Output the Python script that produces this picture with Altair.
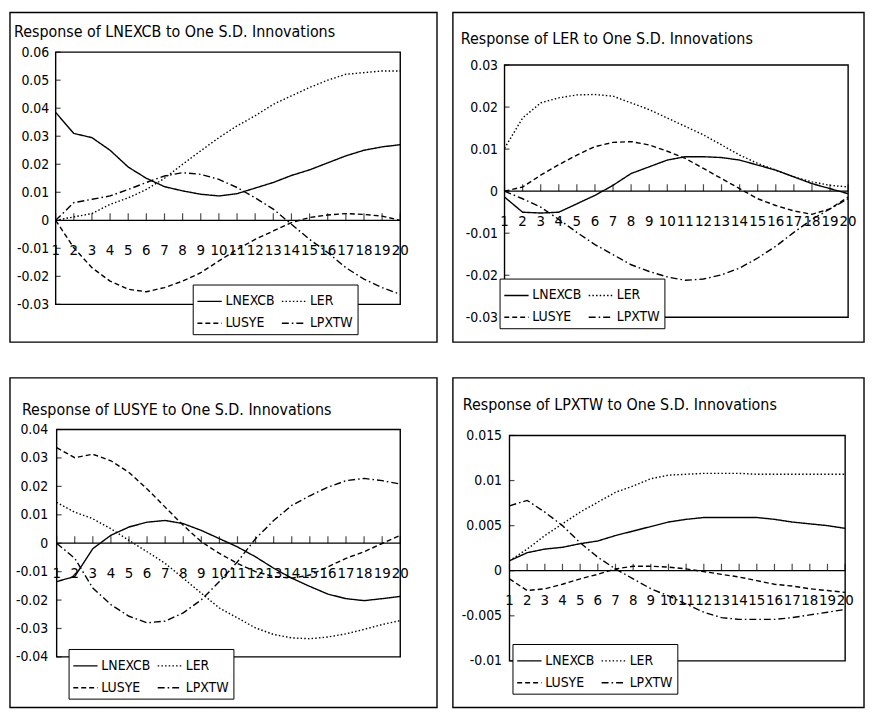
import altair as alt
import pandas as pd

FONT = "Liberation Sans Narrow, DejaVu Sans Condensed, Arial Narrow, sans-serif"

steps = list(range(1, 21))
# legend order (Vega fills the 2-column legend column by column)
series = ["LNEXCB", "LUSYE", "LER", "LPXTW"]
dashes = [[1, 0], [5, 3], [1.5, 2.2], [7, 3, 1.6, 3]]

# Panel 1: Response of LNEXCB
p1_lnexcb = [0.0385, 0.031, 0.0295, 0.025, 0.019, 0.015, 0.012, 0.0105, 0.0093, 0.0087,
             0.0095, 0.0115, 0.0135, 0.016, 0.018, 0.0205, 0.023, 0.025, 0.0262, 0.027]
p1_ler = [0.0, 0.0012, 0.0024, 0.0057, 0.008, 0.011, 0.015, 0.020, 0.0248, 0.0295,
          0.0337, 0.0373, 0.0414, 0.0444, 0.0474, 0.050, 0.0521, 0.0527, 0.0533, 0.0533]
p1_lusye = [0.0, -0.0098, -0.0169, -0.0217, -0.0246, -0.0255, -0.024, -0.0217, -0.0187, -0.0145,
            -0.0104, -0.0068, -0.0038, -0.0008, 0.001, 0.0019, 0.0024, 0.0021, 0.0015, 0.0]
p1_lpxtw = [0.0, 0.0063, 0.0075, 0.0087, 0.011, 0.0135, 0.0158, 0.017, 0.0164, 0.0146,
            0.0117, 0.008, 0.004, -0.0014, -0.0068, -0.0115, -0.0169, -0.021, -0.024, -0.0264]

# Panel 2: Response of LER
p2_lnexcb = [-0.0014, -0.005, -0.0052, -0.005, -0.003, -0.001, 0.0014, 0.0042, 0.0058, 0.0074,
             0.0082, 0.0082, 0.008, 0.0074, 0.0062, 0.005, 0.0034, 0.0018, 0.0006, -0.0006]
p2_ler = [0.0102, 0.0174, 0.021, 0.0222, 0.0229, 0.023, 0.0226, 0.021, 0.0194, 0.0174,
          0.0154, 0.0134, 0.011, 0.0086, 0.0066, 0.005, 0.0034, 0.0022, 0.0014, 0.001]
p2_lusye = [0.0, 0.001, 0.0038, 0.0063, 0.0086, 0.0106, 0.0116, 0.0118, 0.011, 0.0095,
            0.0078, 0.0054, 0.003, 0.0006, -0.0018, -0.0034, -0.0047, -0.0055, -0.0042, -0.0014]
p2_lpxtw = [0.0, -0.0018, -0.0038, -0.0067, -0.0098, -0.0127, -0.0151, -0.0175, -0.0191, -0.0204,
            -0.0212, -0.0209, -0.0199, -0.0183, -0.0159, -0.0131, -0.0098, -0.0067, -0.0042, -0.0018]

# Panel 3: Response of LUSYE
p3_lnexcb = [-0.0135, -0.0117, -0.0019, 0.0028, 0.0057, 0.0074, 0.008, 0.0069, 0.0045, 0.0016,
             -0.0013, -0.0048, -0.0088, -0.0123, -0.0152, -0.0179, -0.0195, -0.0202, -0.0195, -0.0187]
p3_ler = [0.0144, 0.0109, 0.0086, 0.0051, 0.001, -0.003, -0.0071, -0.0123, -0.0176, -0.0228,
          -0.0263, -0.0298, -0.0321, -0.0333, -0.0336, -0.033, -0.0319, -0.0303, -0.0286, -0.0272]
p3_lusye = [0.0336, 0.0301, 0.0313, 0.029, 0.0249, 0.0191, 0.0127, 0.0063, 0.0005, -0.0036,
            -0.0071, -0.010, -0.0117, -0.0123, -0.0112, -0.0083, -0.0053, -0.003, -0.0001, 0.0028]
p3_lpxtw = [0.0, -0.0053, -0.0158, -0.0216, -0.0257, -0.028, -0.0274, -0.0245, -0.0199, -0.0135,
            -0.0065, 0.0016, 0.008, 0.0133, 0.0167, 0.0197, 0.022, 0.0228, 0.022, 0.0208]

# Panel 4: Response of LPXTW
p4_lnexcb = [0.0011, 0.002, 0.0024, 0.0026, 0.003, 0.0033, 0.0039, 0.0044, 0.0049, 0.0054,
             0.0057, 0.0059, 0.0059, 0.0059, 0.0059, 0.0057, 0.0054, 0.0052, 0.005, 0.0047]
p4_ler = [0.0011, 0.0024, 0.0039, 0.0052, 0.0065, 0.0076, 0.0087, 0.0094, 0.0102, 0.0106,
          0.0107, 0.0108, 0.0108, 0.0108, 0.0107, 0.0107, 0.0107, 0.0107, 0.0107, 0.0107]
p4_lusye = [-0.0009, -0.0022, -0.002, -0.0015, -0.0009, -0.0004, 0.0002, 0.0005, 0.0005, 0.0004,
            0.0002, -0.0001, -0.0004, -0.0007, -0.0011, -0.0015, -0.0017, -0.002, -0.0022, -0.0024]
p4_lpxtw = [0.0072, 0.0078, 0.0065, 0.005, 0.0031, 0.0015, 0.0002, -0.0009, -0.002, -0.0028,
            -0.0037, -0.0046, -0.0052, -0.0054, -0.0054, -0.0054, -0.0052, -0.0049, -0.0046, -0.0043]

titles = ["Response of LNEXCB to One S.D. Innovations",
          "Response of LER to One S.D. Innovations",
          "Response of LUSYE to One S.D. Innovations",
          "Response of LPXTW to One S.D. Innovations"]

y_ticks = [
    [0.06, 0.05, 0.04, 0.03, 0.02, 0.01, 0, -0.01, -0.02, -0.03],
    [0.03, 0.02, 0.01, 0, -0.01, -0.02, -0.03],
    [0.04, 0.03, 0.02, 0.01, 0, -0.01, -0.02, -0.03, -0.04],
    [0.015, 0.01, 0.005, 0, -0.005, -0.01],
]

RES = dict(x="independent", y="independent", strokeDash="independent")


def panel(named, title, yt, W, H, xr, yr, frame, tx, ty, lx, ly, lpad):
    rows = []
    for name in series:
        for s, y in zip(steps, named[name]):
            rows.append({"step": s, "value": y, "series": name})
    df = pd.DataFrame(rows)
    xs = alt.Scale(domain=[1, 20], nice=False, zero=False, range=xr)
    ys = alt.Scale(domain=[min(yt), max(yt)], nice=False, zero=False, range=yr)
    yax = alt.Axis(values=yt, title=None, grid=False, ticks=False, domain=False,
                   labelFont=FONT, labelFontSize=14, labelColor="black", labelPadding=lpad,
                   labelExpr="datum.value == 0 ? '0' : replace(format(datum.value, '~g'), '\u2212', '-')")
    X = lambda f: alt.X(f, scale=xs, axis=None)
    Y = lambda f: alt.Y(f, scale=ys, axis=yax)

    lines = alt.Chart(df).mark_line(color="black", strokeWidth=1.4).encode(
        x=X("step:Q"),
        y=Y("value:Q"),
        strokeDash=alt.StrokeDash(
            "series:N",
            scale=alt.Scale(domain=series, range=dashes),
            legend=alt.Legend(orient="none", legendX=lx, legendY=ly, columns=2, title=None,
                              symbolType="stroke", symbolSize=600, symbolStrokeWidth=1.4,
                              symbolStrokeColor="black", labelFont=FONT, labelFontSize=14,
                              labelColor="black", labelOffset=3, strokeColor="black",
                              fillColor="white", padding=4, rowPadding=2, columnPadding=3,
                              cornerRadius=0),
        ),
        order="step:Q",
    )

    # plot frame drawn through the scales (x 1..20, y min..max)
    pf = pd.DataFrame({"x1": [1], "x2": [20], "y1": [min(yt)], "y2": [max(yt)]})
    plotframe = alt.Chart(pf).mark_rect(fillOpacity=0, stroke="black", strokeWidth=1.4).encode(
        x=X("x1:Q"), x2="x2:Q", y=Y("y1:Q"), y2="y2:Q")

    axdf = pd.DataFrame({"step": steps, "z": [0] * 20, "lab": [str(s) for s in steps]})
    zero = alt.Chart(axdf).mark_line(color="black", strokeWidth=1.3).encode(
        x=X("step:Q"), y=Y("z:Q"))
    ticks = alt.Chart(axdf).mark_tick(orient="vertical", size=7, thickness=1.2, yOffset=-3.5,
                                       color="black").encode(x=X("step:Q"), y=Y("z:Q"))
    labels = alt.Chart(axdf).mark_text(font=FONT, fontSize=15, dy=30, color="black",
                                       baseline="middle", align="center").encode(
        x=X("step:Q"), y=Y("z:Q"), text="lab:N")
    ytdf = pd.DataFrame({"v": yt, "s": [1] * len(yt)})
    yticks = alt.Chart(ytdf).mark_tick(orient="horizontal", size=5, thickness=1.2, xOffset=2.5,
                                        color="black").encode(x=X("s:Q"), y=Y("v:Q"))
    fl, fr, ft, fb = frame
    box = alt.Chart(pd.DataFrame({"a": [0]})).mark_rect(
        fillOpacity=0, stroke="black", strokeWidth=1.4).encode(
        x=alt.value(fl), x2=alt.value(fr), y=alt.value(ft), y2=alt.value(fb))
    ttl = alt.Chart(pd.DataFrame({"t": [title]})).mark_text(
        font=FONT, fontSize=16, align="left", baseline="alphabetic", color="black").encode(
        x=alt.value(tx), y=alt.value(ty), text="t:N")

    return alt.layer(box, ttl, plotframe, zero, ticks, yticks, labels, lines).properties(
        width=W, height=H)


p1 = panel({"LNEXCB": p1_lnexcb, "LER": p1_ler, "LUSYE": p1_lusye, "LPXTW": p1_lpxtw},
           titles[0], y_ticks[0], 347, 254, [0, 347], [254, 0],
           (-46, 384, -40, 292), -42, -15, 138, 234, 7)
p2 = panel({"LNEXCB": p2_lnexcb, "LER": p2_ler, "LUSYE": p2_lusye, "LPXTW": p2_lpxtw},
           titles[1], y_ticks[1], 346, 267, [0, 346], [267, 13],
           (-52, 362, -40, 292), -44, -8, -5, 228, 7)
p3 = panel({"LNEXCB": p3_lnexcb, "LER": p3_ler, "LUSYE": p3_lusye, "LPXTW": p3_lpxtw},
           titles[2], y_ticks[2], 347, 229, [1, 347], [229, 0],
           (-46, 384, -52, 280), -34, -15, 13, 221, 8)
p4 = panel({"LNEXCB": p4_lnexcb, "LER": p4_ler, "LUSYE": p4_lusye, "LPXTW": p4_lpxtw},
           titles[3], y_ticks[3], 346, 233, [5, 343], [233, 6],
           (-52, 362, -52, 280), -42, -20, 8, 216, 3)

chart = alt.concat(p1, p2, p3, p4, columns=2, align="none", bounds="full",
                   spacing={"row": 32, "column": 12}).resolve_scale(**RES).resolve_legend(
    strokeDash="independent").configure_view(stroke="transparent").properties(
    padding=0, background="white")

chart.save("out.html", embed_options={"renderer": "svg", "actions": False})
